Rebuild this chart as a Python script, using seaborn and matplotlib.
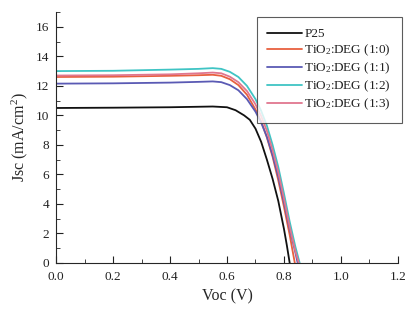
import matplotlib
matplotlib.use("Agg")
import matplotlib.pyplot as plt
from matplotlib.ticker import MultipleLocator
import seaborn as sns
import pandas as pd

# I-V curves
v_p25 = [0, 0.2, 0.4, 0.55, 0.6, 0.63, 0.66, 0.68, 0.70, 0.72, 0.74, 0.76, 0.78, 0.80, 0.81, 0.82]
j_p25 = [10.5, 10.52, 10.55, 10.6, 10.55, 10.35, 10.0, 9.7, 9.1, 8.2, 7.0, 5.7, 4.2, 2.3, 1.2, 0.0]

v_10 = [0, 0.2, 0.4, 0.5, 0.55, 0.58, 0.61, 0.64, 0.67, 0.70, 0.72, 0.74, 0.76, 0.78, 0.80, 0.82, 0.838]
j_10 = [12.6, 12.62, 12.68, 12.72, 12.75, 12.68, 12.45, 12.05, 11.4, 10.4, 9.6, 8.5, 7.2, 5.6, 3.8, 1.9, 0.0]

v_11 = [0, 0.2, 0.4, 0.5, 0.55, 0.58, 0.61, 0.64, 0.67, 0.70, 0.72, 0.74, 0.76, 0.78, 0.80, 0.82, 0.84, 0.848]
j_11 = [12.15, 12.17, 12.22, 12.27, 12.3, 12.25, 12.05, 11.7, 11.1, 10.25, 9.5, 8.55, 7.3, 5.85, 4.1, 2.3, 0.7, 0.0]

v_12 = [0, 0.2, 0.4, 0.5, 0.55, 0.58, 0.61, 0.64, 0.67, 0.70, 0.72, 0.74, 0.76, 0.78, 0.80, 0.82, 0.84, 0.855]
j_12 = [13.0, 13.02, 13.1, 13.15, 13.2, 13.15, 12.95, 12.6, 12.0, 11.1, 10.3, 9.3, 8.0, 6.5, 4.7, 2.8, 1.1, 0.0]

v_13 = [0, 0.2, 0.4, 0.5, 0.55, 0.58, 0.61, 0.64, 0.67, 0.70, 0.72, 0.74, 0.76, 0.78, 0.80, 0.82, 0.84, 0.852]
j_13 = [12.7, 12.72, 12.78, 12.85, 12.9, 12.85, 12.62, 12.25, 11.65, 10.75, 9.95, 8.95, 7.65, 6.15, 4.35, 2.45, 0.8, 0.0]

labels = ["P25", "TiO$_2$:DEG (1:0)", "TiO$_2$:DEG (1:1)", "TiO$_2$:DEG (1:2)", "TiO$_2$:DEG (1:3)"]
colors = ["#111111", "#e8603f", "#5a5ab4", "#3fc4c4", "#e0768f"]

frames = []
for lab, v, j in zip(labels, [v_p25, v_10, v_11, v_12, v_13], [j_p25, j_10, j_11, j_12, j_13]):
    frames.append(pd.DataFrame({"V": v, "J": j, "sample": lab}))
df = pd.concat(frames, ignore_index=True)

sns.set_style("ticks")
plt.rcParams['font.family'] = ['Liberation Serif', 'DejaVu Serif']
plt.rcParams['mathtext.fontset'] = 'custom'
plt.rcParams['mathtext.rm'] = 'Liberation Serif'
plt.rcParams['mathtext.it'] = 'Liberation Serif:italic'

fig = plt.figure(figsize=(4.09, 3.09), dpi=100)
ax = fig.add_axes([0.137, 0.149, 0.836, 0.812])

sns.lineplot(data=df, x="V", y="J", hue="sample", palette=colors, sort=False,
             estimator=None, linewidth=1.3, ax=ax)

ax.set_xlim(0, 1.2)
ax.set_ylim(0, 17)
ax.xaxis.set_major_locator(MultipleLocator(0.2))
ax.xaxis.set_minor_locator(MultipleLocator(0.1))
ax.yaxis.set_major_locator(MultipleLocator(2))
ax.yaxis.set_minor_locator(MultipleLocator(1))
ax.set_yticks(range(0, 17, 2))
ax.set_xticks([0, 0.2, 0.4, 0.6, 0.8, 1.0, 1.2])
ax.set_xticklabels(["0.0", "0.2", "0.4", "0.6", "0.8", "1.0", "1.2"])
ax.tick_params(which='both', direction='in', labelsize=9.5, colors='#222222')
ax.tick_params(which='major', length=5)
ax.tick_params(which='minor', length=3)
ax.tick_params(axis='x', pad=6)
ax.tick_params(axis='y', pad=5)
ax.set_xlabel("Voc (V)", fontsize=11.5)
ax.set_ylabel("Jsc (mA/cm$^2$)", fontsize=11.5)
sns.despine(ax=ax)

leg = ax.legend(loc='upper right', fontsize=9.5, frameon=True, fancybox=False,
                edgecolor='#333333', handlelength=2.6, borderpad=0.8,
                labelspacing=0.2, handletextpad=0.2, bbox_to_anchor=(1.03, 1.005))
leg.get_frame().set_linewidth(0.8)
for t in leg.get_texts():
    t.set_color('#222222')

fig.savefig("out.png", dpi=100)
